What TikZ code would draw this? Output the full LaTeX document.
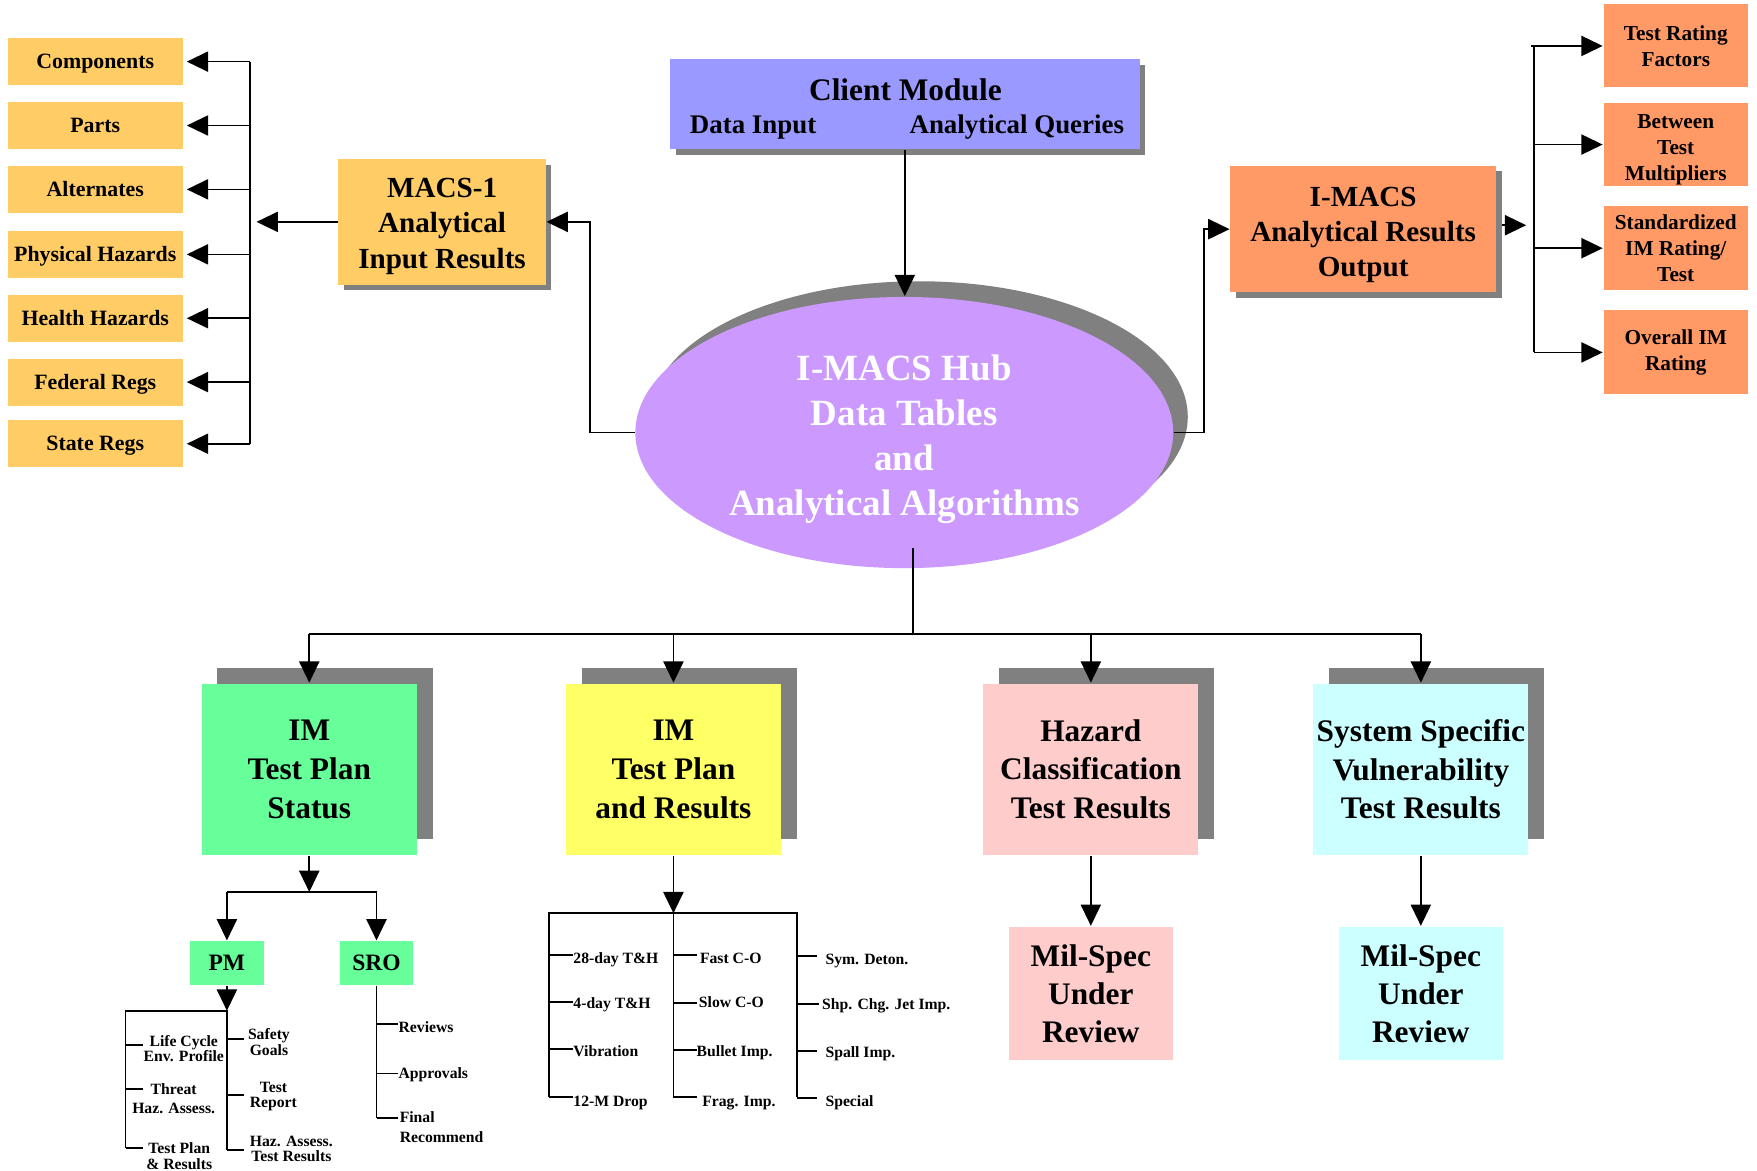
\documentclass[tikz,border=0pt]{standalone}
\usepackage{fontspec}
\setmainfont{Liberation Serif}
\usetikzlibrary{arrows.meta,shapes.geometric,shadows}

\definecolor{gold}{HTML}{FFCC66}
\definecolor{periwinkle}{HTML}{9999FF}
\definecolor{coral}{HTML}{FF9966}
\definecolor{lilac}{HTML}{CC99FF}
\definecolor{mint}{HTML}{66FF99}
\definecolor{lemon}{HTML}{FFFF66}
\definecolor{blush}{HTML}{FFCCCC}
\definecolor{ice}{HTML}{CCFFFF}
\definecolor{shade}{HTML}{808080}

\newcommand{\bfsize}[2]{\fontsize{#1}{#2}\selectfont\bfseries}

\tikzset{
  box/.style={rectangle, inner sep=0pt, align=center},
  txt/.style={inner sep=0pt, align=center},
  lowshadow/.style={drop shadow={shadow xshift=2.5pt, shadow yshift=-2.5pt, fill=shade, opacity=1}},
  highshadow/.style={drop shadow={shadow xshift=7pt, shadow yshift=7pt, fill=shade, opacity=1}},
  itembox/.style={box, fill=gold, minimum width=78pt, minimum height=21pt, text depth=0pt, font=\bfsize{9.75}{11}},
  ratebox/.style={box, fill=coral, minimum width=64.5pt, font=\bfsize{9.5}{11.5}},
  bigbox/.style={box, highshadow, minimum width=96pt, minimum height=76.5pt, font=\bfsize{14}{17.25}},
  specbox/.style={box, minimum width=73pt, minimum height=59.5pt, font=\bfsize{14}{17}},
  rolebox/.style={box, fill=mint, minimum width=33pt, minimum height=19.5pt, font=\bfsize{10.5}{12}},
  leaf/.style={inner sep=0pt, align=center, font=\bfsize{7}{6.8}},
  leafl/.style={inner sep=0pt, anchor=base west, font=\bfsize{7}{9}},
  arr/.style={-{Triangle[length=9.5pt,width=9pt]}},
}

\begin{document}
\begin{tikzpicture}[x=0.5pt, y=-0.5pt, line width=0.75pt]
\useasboundingbox (0,0) rectangle (1568,1045);

% ---------- left column: MACS-1 inputs ----------
\node[itembox] (comp)   at (85,55)  {Components};
\node[itembox] (parts)  at (85,112) {Parts};
\node[itembox] (alt)    at (85,169) {Alternates};
\node[itembox] (phys)   at (85,227) {Physical Hazards};
\node[itembox] (health) at (85,284) {Health Hazards};
\node[itembox] (fed)    at (85,341) {Federal Regs};
\node[itembox] (state)  at (85,396) {State Regs};

\node[box, fill=gold, lowshadow, minimum width=92.5pt, minimum height=56pt] (macs) at (394.5,198) {};
\node[txt, font=\bfsize{13}{15.75}] (macstext) at (394.5,202) {MACS-1\\Analytical\\Input Results};

% ---------- client module ----------
\node[box, fill=periwinkle, lowshadow, minimum width=209.5pt, minimum height=40pt] (client) at (807.5,93) {};
\node[inner sep=0pt, anchor=base, font=\bfsize{14}{16}] (cmtitle) at (808,90) {Client Module};
\node[inner sep=0pt, anchor=base west, font=\bfsize{12}{14}] (cmin) at (615,119) {Data Input};
\node[inner sep=0pt, anchor=base west, font=\bfsize{12}{14}] (cmq) at (811,119) {Analytical Queries};

% ---------- hub ----------
\node[ellipse, fill=lilac, minimum width=240pt, minimum height=121pt, inner sep=0pt,
      drop shadow={shadow xshift=6.5pt, shadow yshift=7pt, fill=shade, opacity=1}]
      (hub) at (807,386) {};
\node[txt, text=white, font=\bfsize{16.5}{20}] (hubtext) at (807,392)
      {I-MACS Hub\\Data Tables\\and\\Analytical Algorithms};

% ---------- I-MACS output and ratings ----------
\node[box, fill=coral, lowshadow, minimum width=118.5pt, minimum height=56.5pt] (imacs) at (1216.5,204.5) {};
\node[txt, font=\bfsize{13}{15.75}] (imacstext) at (1216.5,209.5) {I-MACS\\Analytical Results\\Output};

\node[ratebox, minimum height=37pt]   (trf) at (1495.5,41)    {Test Rating\\Factors};
\node[ratebox, minimum height=37pt]   (btm) at (1495.5,129)   {};
\node[txt, font=\bfsize{9.5}{11.5}]   (btmtext) at (1495.5,133.5) {Between\\Test\\Multipliers};
\node[ratebox, minimum height=37.5pt] (std) at (1495.5,221.5) {Standardized\\IM Rating/\\Test};
\node[ratebox, minimum height=37.5pt] (ovr) at (1495.5,314.5) {Overall IM\\Rating};

% ---------- lower row ----------
\node[bigbox, fill=mint]  (b1) at (276,686.5)    {IM\\Test Plan\\Status};
\node[bigbox, fill=lemon] (b2) at (601,686.5)    {IM\\Test Plan\\and Results};
\node[bigbox, fill=blush] (b3) at (973.5,686.5)  {Hazard\\Classification\\Test Results};
\node[bigbox, fill=ice]   (b4) at (1268,686.5)   {System Specific\\Vulnerability\\Test Results};

\node[specbox, fill=blush] (m1) at (973.5,886.5) {Mil-Spec\\Under\\Review};
\node[specbox, fill=ice]   (m2) at (1268,886.5)  {Mil-Spec\\Under\\Review};

\node[rolebox] (pm)  at (202.5,859.5) {PM};
\node[rolebox] (sro) at (336,859.5)   {SRO};

% PM items
\node[leaf] (lc)  at (164,936)    {Life Cycle\\Env. Profile};
\node[leaf, font=\bfsize{7}{8.5}] (th) at (155,980.5) {Threat\\Haz. Assess.};
\node[leaf, font=\bfsize{7}{7}] (tp) at (160,1032) {Test Plan\\\& Results};
\node[leaf] (sg)  at (240,930)    {Safety\\Goals};
\node[leaf] (trp) at (244,978.5)  {Test\\Report};
\node[leaf] (ha)  at (260,1025.5) {Haz. Assess.\\Test Results};

% SRO items
\node[leafl] (rev) at (355,921.5) {Reviews};
\node[leafl] (app) at (355,962.5) {Approvals};
\node[inner sep=0pt, anchor=west, align=left, font=\bfsize{7}{9}] (fin) at (356,1006) {Final\\Recommend};

% test items
\node[leafl] (d28)   at (511,859.5) {28-day T\&H};
\node[leafl] (d4)    at (511,900)   {4-day T\&H};
\node[leafl] (vib)   at (511,943)   {Vibration};
\node[leafl] (drop)  at (511,987.5) {12-M Drop};
\node[leafl] (fco)   at (624,859.5) {Fast C-O};
\node[leafl] (sco)   at (623,899.5) {Slow C-O};
\node[leafl] (bul)   at (621,942.5) {Bullet Imp.};
\node[leafl] (frag)  at (626,987.5) {Frag. Imp.};
\node[leafl] (sym)   at (736,860.5) {Sym. Deton.};
\node[leafl] (shp)   at (733,900.5) {Shp. Chg. Jet Imp.};
\node[leafl] (spall) at (736,943.5) {Spall Imp.};
\node[leafl] (spec)  at (736,987.5) {Special};

% ---------- connectors ----------
% client to hub
\draw[arr] (client.south) -- (client.south |- hub.north);

% hub to MACS-1, MACS-1 to its inputs
\draw[arr] (hub.west) -- ++(-40,0) |- (macs.east);
\coordinate (lbin) at (229,198);
\draw[arr] (macs.west) -- (lbin);
\coordinate (lbtop) at (223,55);
\coordinate (lbbot) at (223,396);
\draw (lbtop) -- (lbbot);
\foreach \n in {comp,parts,alt,phys,health,fed,state}
  \draw[arr, shorten >=1.5pt] (lbtop |- \n.east) -- (\n.east);

% hub to I-MACS, I-MACS to ratings
\draw[arr] (hub.east) -- ++(27,0) |- (imacs.west);
\coordinate (imout) at (1340,201);
\coordinate (rbin) at (1362,201);
\draw[arr] (imout) -- (rbin);
\coordinate (rbtop) at (1369,41);
\draw (1366,41) -- (rbtop) -- (rbtop |- ovr.west);
\foreach \n in {trf,btm,std,ovr}
  \draw[arr] (rbtop |- \n.west) -- (\n.west);

% hub to the lower row
\coordinate (hubout) at (815,489);
\coordinate (hubbus) at (815,566);
\draw (hubout) -- (hubbus);
\draw (b1.north |- hubbus) -- (b4.north |- hubbus);
\foreach \n in {b1,b2,b3,b4}
  \draw[arr] (\n.north |- hubbus) -- (\n.north);

\draw[arr] (b3.south) -- (m1.north);
\draw[arr] (b4.south) -- (m2.north);

% test plan status to PM and SRO
\coordinate (g1) at (276,796);
\draw[arr] (b1.south) -- (g1);
\draw (pm.north |- g1) -- (sro.north |- g1);
\draw[arr] (pm.north |- g1) -- (pm.north);
\draw[arr] (sro.north |- g1) -- (sro.north);

% PM tree
\coordinate (p1) at (202.5,902);
\draw[arr] (pm.south) -- (p1);
\draw (112,1024.5) -- (112,902) -- (p1) -- (202.5,1026);
\draw (112,932.6) -- (127.5,932.6)
      (112,972) -- (127.5,972)
      (112,1024.5) -- (127.5,1024.5);
\draw (202.5,927) -- (218,927)
      (202.5,977) -- (218,977)
      (202.5,1026) -- (218,1026);

% SRO tree
\draw (sro.south) -- (336,998);
\draw (336,914) -- (355,914)
      (336,958) -- (355,958)
      (336,998) -- (355,998);

% test plan and results tree
\coordinate (t1) at (601,815);
\draw[arr] (b2.south) -- (t1);
\draw (490,979) -- (490,815) -- (711,815) -- (711,979);
\draw (t1) -- (601,979);
\draw (490,852) -- (511,852)
      (490,894) -- (511,894)
      (490,936) -- (511,936)
      (490,979) -- (511,979);
\draw (601,852) -- (622,852)
      (601,895) -- (622,895)
      (601,937) -- (622,937)
      (601,979) -- (622,979);
\draw (711,853) -- (729,853)
      (711,896) -- (731,896)
      (711,938) -- (729,938)
      (711,980) -- (729,980);
\end{tikzpicture}
\end{document}
